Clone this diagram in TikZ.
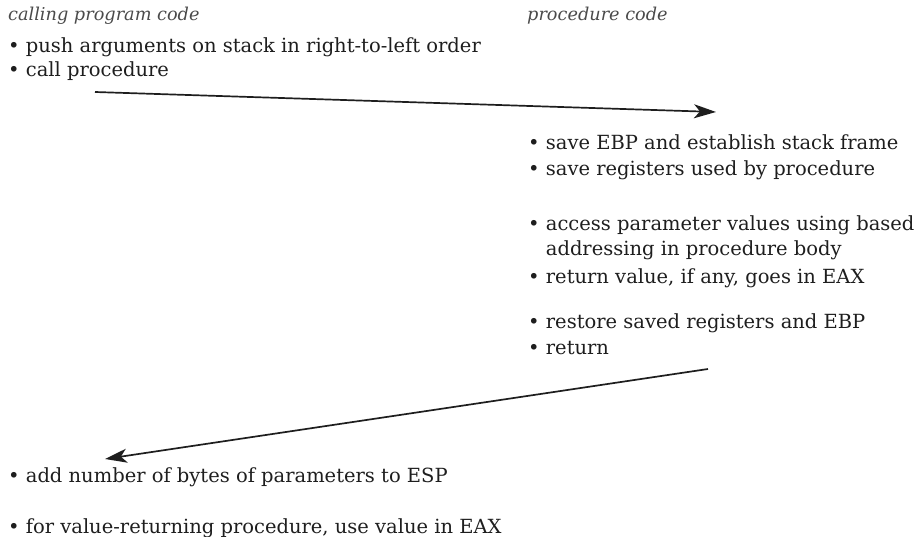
\documentclass[tikz,border=0pt]{standalone}
\usepackage{fontspec}
\setmainfont{DejaVu Serif}
\usetikzlibrary{arrows.meta}
\definecolor{txt}{HTML}{1E1E1E}
\definecolor{hdr}{HTML}{4A4A4A}
\begin{document}
\begin{tikzpicture}[x=1pt,y=-1pt,
  item/.style={anchor=base west,inner sep=0pt,text=txt,font=\fontsize{19.5}{24}\selectfont},
  head/.style={anchor=base west,inner sep=0pt,text=hdr,font=\fontsize{17.7}{22}\selectfont\itshape},
  flow/.style={line width=1.7pt,draw=txt,-{Stealth[length=22pt,width=14pt,inset=6pt]}}]
\useasboundingbox (0,0) rectangle (924,537);
\node[head] (h1) at (8,21) {calling program code};
\node[head] (h2) at (527,21) {procedure code};
\node[item] (c1) at (8,53) {• push arguments on stack in right-to-left order};
\node[item] (c2) at (8,77) {• call procedure};
\node[item] (p1) at (528,150) {• save EBP and establish stack frame};
\node[item] (p2) at (528,176) {• save registers used by procedure};
\node[item] (p3) at (528,231) {• access parameter values using based};
\node[item] (p3b) at (528,256) {\phantom{• }addressing in procedure body};
\node[item] (p4) at (528,284) {• return value, if any, goes in EAX};
\node[item] (p5) at (528,329) {• restore saved registers and EBP};
\node[item] (p6) at (528,355) {• return};
\node[item] (r1) at (8,482) {• add number of bytes of parameters to ESP};
\node[item] (r2) at (8,533) {• for value-returning procedure, use value in EAX};
\coordinate (a1s) at (95,92);
\coordinate (a1e) at (716,112);
\coordinate (a2s) at (708,369);
\coordinate (a2e) at (105,459);
\draw[flow] (a1s) -- (a1e);
\draw[flow] (a2s) -- (a2e);
\end{tikzpicture}
\end{document}
